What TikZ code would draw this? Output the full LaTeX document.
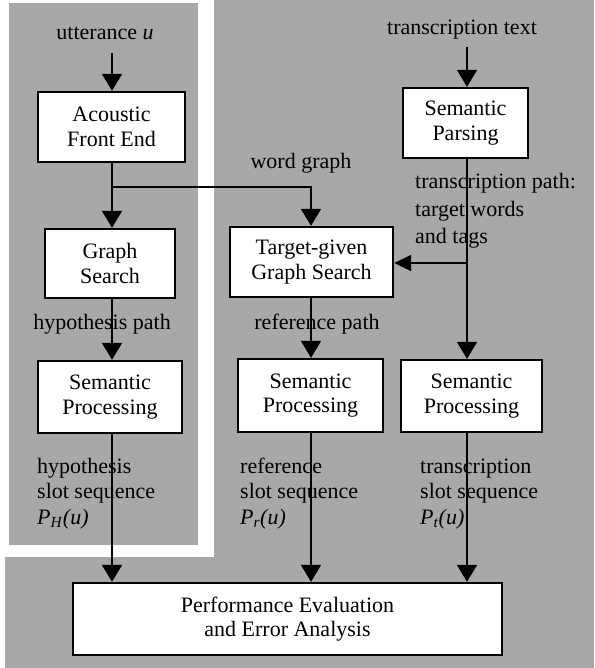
\documentclass[tikz,border=0pt]{standalone}
\usepackage{fontspec}
\setmainfont{Liberation Serif}
\usetikzlibrary{arrows.meta}
\definecolor{scan}{RGB}{168,168,168}
\begin{document}
\begin{tikzpicture}[x=1pt,y=-1pt,
  box/.style={draw=black,fill=white,line width=2.4pt,align=center,
    font=\fontsize{22}{24.5}\selectfont,inner sep=0pt},
  lab/.style={font=\fontsize{22}{25}\selectfont,inner sep=0pt},
  conn/.style={line width=1.9pt},
  arr/.style={conn,-{Triangle[width=20pt,length=17pt]}},
  harr/.style={conn,-{Triangle[width=16pt,length=17pt]}}]
\useasboundingbox (0,0) rectangle (594,668);
% scanned grey panels
\fill[scan] (9,3) rectangle (198,545);
\fill[scan] (214,0) rectangle (594,668);
\fill[scan] (5,557) rectangle (594,668);
% boxes
\node[box,minimum width=147pt,minimum height=70pt] (af) at (111.5,127) {Acoustic\\Front End};
\node[box,minimum width=130pt,minimum height=69pt] (gs) at (110,263.5) {Graph\\Search};
\node[box,minimum width=144pt,minimum height=72pt] (sp1) at (110,397) {Semantic\\Processing};
\node[box,minimum width=163pt,minimum height=70pt] (tg) at (311.5,262) {Target-given\\Graph Search};
\node[box,minimum width=125pt,minimum height=70pt] (spar) at (465.5,123) {Semantic\\Parsing};
\node[box,minimum width=145pt,minimum height=73pt] (sp2) at (310.5,395.5) {Semantic\\Processing};
\node[box,minimum width=141pt,minimum height=72pt] (sp3) at (471.5,396) {Semantic\\Processing};
\node[box,minimum width=429pt,minimum height=72pt] (perf) at (287.5,619) {Performance Evaluation\\and Error Analysis};
% labels
\node[lab,anchor=base] (utt) at (105,40) {utterance \textit{u}};
\node[lab,anchor=base] (tt) at (462,35) {transcription text};
\node[lab,anchor=base] (wg) at (301,169) {word graph};
\node[lab,anchor=base west] (tp1) at (415,189) {transcription path:};
\node[lab,anchor=base west] (tp2) at (415,216) {target words};
\node[lab,anchor=base west] (tp3) at (415,243) {and tags};
\node[lab,anchor=base] (hp) at (102,329) {hypothesis path};
\node[lab,anchor=base] (rp) at (317,329) {reference path};
\node[lab,anchor=base west] (h1) at (37,473) {hypothesis};
\node[lab,anchor=base west] (h2) at (37,498) {slot sequence};
\node[lab,anchor=base west] (h3) at (37,524) {\textit{P}\textsubscript{\textit{H}}\textit{(u)}};
\node[lab,anchor=base west] (r1) at (240,473) {reference};
\node[lab,anchor=base west] (r2) at (240,498) {slot sequence};
\node[lab,anchor=base west] (r3) at (240,524) {\textit{P}\textsubscript{\textit{r}}\textit{(u)}};
\node[lab,anchor=base west] (t1) at (420,473) {transcription};
\node[lab,anchor=base west] (t2) at (420,498) {slot sequence};
\node[lab,anchor=base west] (t3) at (420,524) {\textit{P}\textsubscript{\textit{t}}\textit{(u)}};
% junction coordinates
\coordinate (uin) at (112,53);
\coordinate (tin) at (467,47);
\coordinate (j1) at (112,187);
\coordinate (j2) at (311,187);
\coordinate (j3) at (467,263);
% connectors
\draw[arr] (uin) -- (uin |- af.north);
\draw[arr] (tin) -- (tin |- spar.north);
\draw[arr] (af.south -| j1) -- (j1 |- gs.north);
\draw[arr] (j1) -- (j2) -- (j2 |- tg.north);
\draw[arr] (spar.south -| j3) -- (j3 |- sp3.north);
\draw[harr] (j3) -- (j3 -| tg.east);
\draw[arr] (gs.south -| j1) -- (j1 |- sp1.north);
\draw[arr] (tg.south -| j2) -- (j2 |- sp2.north);
\draw[arr] (sp1.south -| j1) -- (j1 |- perf.north);
\draw[arr] (sp2.south -| j2) -- (j2 |- perf.north);
\draw[arr] (sp3.south -| j3) -- (j3 |- perf.north);
\end{tikzpicture}
\end{document}
